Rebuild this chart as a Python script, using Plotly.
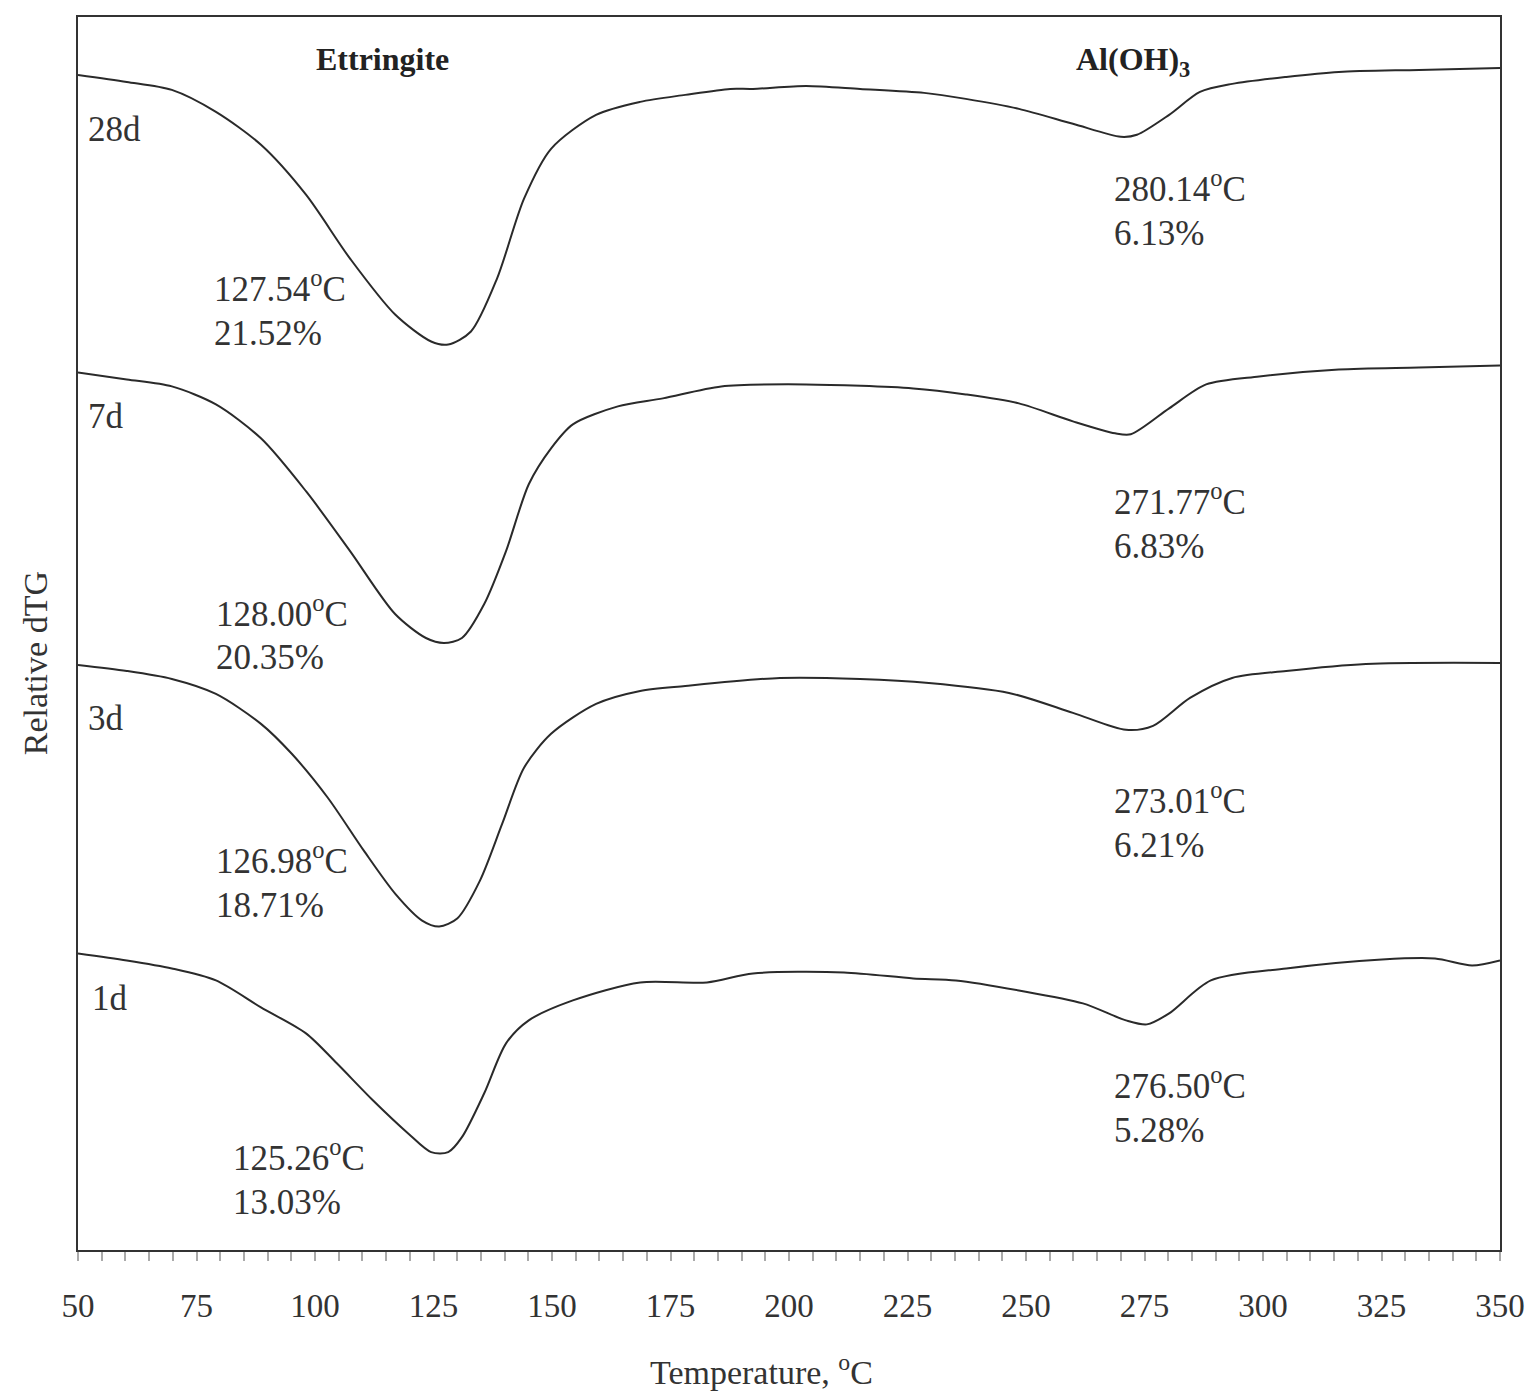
import plotly.graph_objects as go

# ---- data (relative dTG, arbitrary offset units) ----
t_28d = [50, 60.3, 69.8, 79.1, 88.6, 98.1, 107.4, 116.9, 124.5, 128.1, 132.9, 138.4, 144.1, 149.8, 159.3, 168.6, 178.1, 187.6,
         192.4, 203.6, 215, 228.5, 237.3, 248.5, 259.9, 270, 273.4, 280.2, 286.7, 293.5, 304.9, 316, 332.9, 350]
y_28d = [1177, 1170, 1162, 1140, 1107, 1057, 993, 937, 910, 907, 920, 973, 1053, 1103, 1137, 1150, 1157, 1163,
         1163, 1166, 1163, 1159, 1153, 1143, 1128, 1115, 1117, 1137, 1160, 1168, 1175, 1180, 1182, 1184]

t_7d = [50, 60.3, 69.8, 79.1, 88.6, 98.1, 107.4, 116.9, 123.4, 127.2, 131, 135.7, 140.3, 145.1, 149.8, 154.4, 163.9, 173.4, 185.7,
        203.6, 226.2, 237.3, 248.5, 259.9, 268.8, 272.1, 280.2, 288, 299.2, 316, 332.9, 350]
y_7d = [879, 872, 865, 847, 813, 760, 700, 637, 613, 608, 613, 647, 700, 767, 803, 827, 845, 853, 865,
        867, 863, 857, 848, 830, 818, 817, 843, 867, 875, 882, 884, 886]

t_3d = [50, 60.3, 69.8, 79.1, 88.6, 95.1, 102.7, 110.3, 116.9, 122.6, 126.2, 130, 134.8, 139.5, 144.1, 149.8, 159.3, 168.6, 178.1,
        198.1, 215, 229.5, 246.4, 259.9, 271.1, 276.8, 284.6, 293.5, 304.9, 321.7, 350]
y_3d = [586, 580, 572, 557, 527, 497, 453, 400, 357, 330, 324, 332, 370, 427, 483, 517, 547, 560, 565,
        573, 572, 568, 558, 538, 521, 525, 553, 573, 580, 587, 588]

t_1d = [50, 60.3, 69.8, 79.1, 88.6, 98.1, 104.6, 112.2, 119.6, 124.5, 128.1, 131, 135.7, 140.3, 145.1, 154.4, 168.6, 182.7,
        192.4, 211.6, 226.2, 235.2, 248.5, 262, 271.1, 275.5, 280.2, 289, 304.9, 325.1, 336.3, 344.1, 350]
y_1d = [297, 290, 282, 270, 243, 217, 187, 150, 117, 98, 98, 113, 157, 207, 230, 250, 268, 268,
        277, 278, 272, 270, 260, 247, 230, 226, 237, 270, 282, 291, 292, 285, 290]

series_t = [t_28d, t_7d, t_3d, t_1d]
series_y = [y_28d, y_7d, y_3d, y_1d]
series_names = ["28d", "7d", "3d", "1d"]

# curve labels
age_x = [51.6, 51.6, 51.6, 52.6]
age_y = [1122, 835, 532, 252]

# peak annotations (ettringite)
ett_temp = ["127.54", "128.00", "126.98", "125.26"]
ett_pct = ["21.52%", "20.35%", "18.71%", "13.03%"]
ett_x = [78.3, 78.7, 78.7, 82.3]
ett_y = [965, 640, 392, 95]

# peak annotations (Al(OH)3)
al_temp = ["280.14", "271.77", "273.01", "276.50"]
al_pct = ["6.13%", "6.83%", "6.21%", "5.28%"]
al_x = [268.2, 268.2, 268.2, 268.2]
al_y = [1065, 752, 452, 167]

x_ticks = [50, 75, 100, 125, 150, 175, 200, 225, 250, 275, 300, 325, 350]

FONT = "Liberation Serif, Times New Roman, serif"
fig = go.Figure()
for t, y, n in zip(series_t, series_y, series_names):
    fig.add_trace(go.Scatter(x=t, y=y, mode="lines", name=n,
                             line=dict(color="#2a2a2a", width=2, shape="spline", smoothing=0.8),
                             showlegend=False))

ann = []
for x, y, n in zip(age_x, age_y, series_names):
    ann.append(dict(x=x, y=y, text=n, showarrow=False, xanchor="left", yanchor="middle",
                    font=dict(family=FONT, size=35, color="#333")))
for xs, ys, temps, pcts in [(ett_x, ett_y, ett_temp, ett_pct), (al_x, al_y, al_temp, al_pct)]:
    for x, y, tt, pp in zip(xs, ys, temps, pcts):
        ann.append(dict(x=x, y=y, text=f"{tt}<sup>o</sup>C", showarrow=False, xanchor="left", yanchor="middle",
                        font=dict(family=FONT, size=35, color="#333")))
        ann.append(dict(x=x, y=y - 47, text=pp, showarrow=False, xanchor="left", yanchor="middle",
                        font=dict(family=FONT, size=35, color="#333")))

ann.append(dict(x=114.3, y=1193, text="<b>Ettringite</b>", showarrow=False, xanchor="center", yanchor="middle",
                font=dict(family=FONT, size=32, color="#222")))
ann.append(dict(x=272.6, y=1190, text="<b>Al(OH)<sub>3</sub></b>", showarrow=False, xanchor="center", yanchor="middle",
                font=dict(family=FONT, size=32, color="#222")))
ann.append(dict(xref="paper", yref="paper", x=0.481, y=-0.097, text="Temperature, <sup>o</sup>C", showarrow=False,
                xanchor="center", yanchor="middle", font=dict(family=FONT, size=34, color="#333")))
ann.append(dict(xref="paper", yref="paper", x=-0.0302, y=0.476, text="Relative dTG", showarrow=False, textangle=-90,
                xanchor="center", yanchor="middle", font=dict(family=FONT, size=34, color="#333")))

fig.update_layout(
    width=1535, height=1394,
    margin=dict(l=70, r=43, t=7, b=152),
    paper_bgcolor="white", plot_bgcolor="white",
    annotations=ann,
    font=dict(family=FONT, size=33, color="#333"),
)
fig.update_xaxes(range=[50, 350], tickvals=x_ticks, ticks="outside", ticklen=9, tickwidth=1.5, tickcolor="#aaa",
                 minor=dict(dtick=5, ticks="outside", ticklen=9, tickwidth=1.5, tickcolor="#aaa"),
                 showgrid=False, zeroline=False, showline=True, linecolor="#333", linewidth=2, mirror=True,
                 ticklabelstandoff=16, tickfont=dict(family=FONT, size=33, color="#333"))
fig.update_yaxes(range=[0, 1235], showticklabels=False, ticks="", showgrid=False, zeroline=False,
                 showline=True, linecolor="#333", linewidth=2, mirror=True)

fig.write_html("out.html")
